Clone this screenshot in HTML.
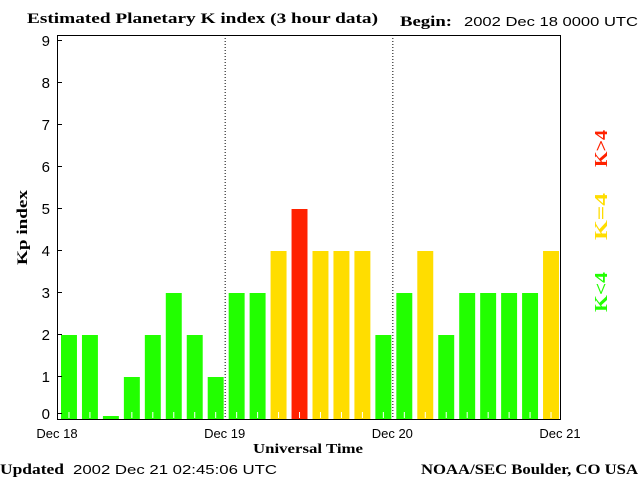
<!DOCTYPE html>
<html><head><meta charset="utf-8"><style>
body{margin:0;background:#fff;width:640px;height:480px;overflow:hidden}
svg{display:block}
.s{font-family:"Liberation Serif",serif;font-weight:bold}
.n{font-family:"Liberation Sans",sans-serif}
</style></head><body>
<svg id="c" width="640" height="480">
<text class="s" x="27" y="23" font-size="15" textLength="351" lengthAdjust="spacingAndGlyphs">Estimated Planetary K index (3 hour data)</text>
<text class="s" x="400" y="26" font-size="15" textLength="52" lengthAdjust="spacingAndGlyphs">Begin:</text>
<text class="n" x="464" y="26" font-size="13" textLength="174" lengthAdjust="spacingAndGlyphs">2002 Dec 18 0000 UTC</text>
<text class="s" x="0" y="474" font-size="15" textLength="64" lengthAdjust="spacingAndGlyphs">Updated</text>
<text class="n" x="73" y="474" font-size="13" textLength="204" lengthAdjust="spacingAndGlyphs">2002 Dec 21 02:45:06 UTC</text>
<text class="s" x="421" y="474" font-size="15" textLength="217" lengthAdjust="spacingAndGlyphs">NOAA/SEC Boulder, CO USA</text>
<text class="s" x="253" y="453" font-size="14" textLength="110" lengthAdjust="spacingAndGlyphs">Universal Time</text>
<text class="s" transform="translate(27,265) rotate(-90)" font-size="15" textLength="75" lengthAdjust="spacingAndGlyphs">Kp index</text>
<text class="s" transform="translate(607,167) rotate(-90)" font-size="18" fill="#ff2200" textLength="37" lengthAdjust="spacingAndGlyphs">K&gt;4</text>
<text class="s" transform="translate(607,240) rotate(-90)" font-size="18" fill="#ffdd00" textLength="47" lengthAdjust="spacingAndGlyphs">K=4</text>
<text class="s" transform="translate(607,312) rotate(-90)" font-size="18" fill="#22ff00" textLength="40" lengthAdjust="spacingAndGlyphs">K&lt;4</text>
</svg>
<script>
const kpValues=[2,2,0,1,2,3,2,1,3,3,4,5,4,4,4,2,3,4,2,3,3,3,3,4];
const yTicks=[0,1,2,3,4,5,6,7,8,9];
const dayLabels=["Dec 18","Dec 19","Dec 20","Dec 21"];
const X0=57,X1=560,Y0=418,YT=35,UNIT=42;
const slotW=(X1-X0)/kpValues.length;
const sx=i=>X0+i*slotW;
const sy=v=>Y0-v*UNIT;
const svg=document.getElementById('c');
const NS="http://www.w3.org/2000/svg";
function mk(t,a){const e=document.createElementNS(NS,t);for(const k in a)e.setAttribute(k,a[k]);svg.appendChild(e);return e;}
kpValues.forEach((v,i)=>{
  const col=v>4?"#ff2200":(v==4?"#ffdd00":"#22ff00");
  const h=Math.max(v*UNIT,3);
  const r=mk('rect',{x:sx(i)+4,y:Y0-h+1,width:slotW-5,height:h,fill:col});
  
  
  if(v>0){const t=mk('line',{x1:sx(i)+4+(slotW-5)/2,x2:sx(i)+4+(slotW-5)/2,y1:Y0-6,y2:Y0,stroke:"#fff"});
  
  }
});
[1,2].forEach(d=>{const l=mk('line',{x1:sx(d*8)+0.5,x2:sx(d*8)+0.5,y1:YT,y2:Y0,stroke:"#000","stroke-dasharray":"1,2"});

});
const ax=mk('rect',{x:X0+0.5,y:YT+0.5,width:X1-X0,height:Y0-YT+1,fill:"none",stroke:"#000"});


yTicks.forEach(v=>{
  const y=sy(v)-(v==0?5:0);
  const l=mk('line',{x1:X0,x2:X0+5,y1:y+0.5,y2:y+0.5,stroke:"#000"});
  
  
  const t=mk('text',{x:50,y:y+6,"font-size":"15","text-anchor":"end",class:"n"});
  t.textContent=v;
  
  
});
dayLabels.forEach((d,i)=>{
  const t=mk('text',{x:sx(i*8),y:438,"font-size":"13","text-anchor":"middle",class:"n"});
  t.textContent=d;
  
  
});
</script>
</body></html>
